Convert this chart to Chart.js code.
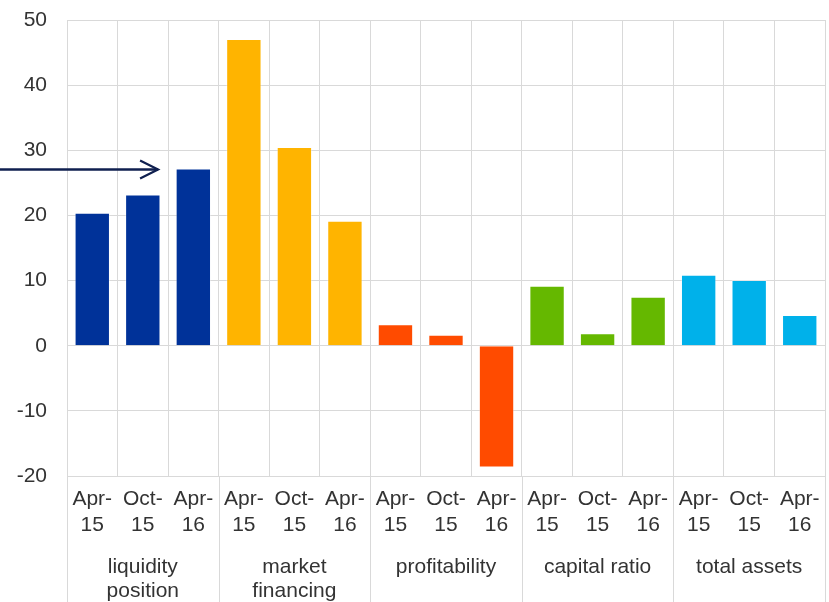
<!DOCTYPE html>
<html>
<head>
<meta charset="utf-8">
<script src="https://cdn.jsdelivr.net/npm/chart.js@4/dist/chart.umd.min.js"></script>
<style>
  html, body { margin: 0; padding: 0; background: #fff; }
  #wrap { width: 829px; height: 602px; }
</style>
</head>
<body>
<div id="wrap"><canvas id="chart" width="829" height="602"></canvas></div>
<script>
// ── Data ──────────────────────────────────────────────────────────────────────
const groups  = ['liquidity\nposition', 'market\nfinancing', 'profitability', 'capital ratio', 'total assets'];
const periods = [['Apr-', '15'], ['Oct-', '15'], ['Apr-', '16']];
const groupColors = ['#003299', '#FFB400', '#FF4B00', '#65B800', '#00B1EA'];

const liquidity     = [20.4, 23.2, 27.2];
const marketFin     = [47.1, 30.5, 19.2];
const profitability = [3.3, 1.7, -18.7];
const capitalRatio  = [9.2, 1.9, 7.5];
const totalAssets   = [10.9, 10.1, 4.7];

const yTicks = [-20, -10, 0, 10, 20, 30, 40, 50];

// flatten into 15 bars
const series = [liquidity, marketFin, profitability, capitalRatio, totalAssets];
const labels = [];
const values = [];
const colors = [];
series.forEach((s, g) => {
  s.forEach((v, i) => {
    labels.push(periods[i]);
    values.push(v);
    colors.push(groupColors[g]);
  });
});

const gridColor = '#d9d9d9';
const textColor = '#333333';
const fontFamily = '"Liberation Sans", Arial, sans-serif';
const fontSize = 21;

// group labels + long separators under the axis, plus the arrow annotation
const groupPlugin = {
  id: 'groupLabels',
  afterDraw(chart) {
    const { ctx, chartArea } = chart;
    const x = chart.scales.x;
    const y = chart.scales.y;
    const step = x.getPixelForValue(1) - x.getPixelForValue(0);
    ctx.save();
    // separators
    ctx.strokeStyle = gridColor;
    ctx.lineWidth = 1;
    for (let g = 0; g <= groups.length; g++) {
      const px = Math.round(x.getPixelForValue(g * 3) - step / 2) + 0.5;
      ctx.beginPath();
      ctx.moveTo(px, chartArea.bottom);
      ctx.lineTo(px, chart.height);
      ctx.stroke();
    }
    // labels
    ctx.fillStyle = textColor;
    ctx.font = fontSize + 'px ' + fontFamily;
    ctx.textAlign = 'center';
    ctx.textBaseline = 'middle';
    groups.forEach((name, g) => {
      const cx = x.getPixelForValue(g * 3 + 1);
      name.split('\n').forEach((line, k) => {
        ctx.fillText(line, cx, chartArea.bottom + 91 + k * 24);
      });
    });
    // arrow pointing at the latest liquidity bar
    const ay = Math.round(y.getPixelForValue(liquidity[2])) + 0.5;
    const tipX = x.getPixelForValue(2) - step / 2 - 10;
    ctx.strokeStyle = '#0f1f4f';
    ctx.lineWidth = 2.3;
    ctx.beginPath();
    ctx.moveTo(0, ay);
    ctx.lineTo(tipX, ay);
    ctx.stroke();
    ctx.lineWidth = 2.2;
    ctx.beginPath();
    ctx.moveTo(tipX - 18, ay - 9);
    ctx.lineTo(tipX, ay);
    ctx.lineTo(tipX - 18, ay + 9);
    ctx.stroke();
    ctx.restore();
  }
};

new Chart(document.getElementById('chart'), {
  type: 'bar',
  data: {
    labels,
    datasets: [{
      data: values,
      backgroundColor: colors,
      borderColor: 'rgba(255,255,255,0.35)',
      borderWidth: 1,
      barPercentage: 0.7,
      categoryPercentage: 1.0
    }]
  },
  options: {
    responsive: false,
    animation: false,
    layout: { padding: { top: 0, right: 4, left: 0, bottom: 0 } },
    plugins: { legend: { display: false }, tooltip: { enabled: false } },
    scales: {
      x: {
        offset: true,
        grid: { color: gridColor, offset: true, drawTicks: false },
        border: { color: gridColor },
        ticks: {
          color: textColor,
          font: { family: fontFamily, size: fontSize, lineHeight: 1.2 },
          padding: 11,
          maxRotation: 0,
          autoSkip: false
        },
        afterFit(scale) {
          scale.height = 126;
          scale.paddingLeft = 0;
          scale.paddingRight = 0;
        }
      },
      y: {
        min: -20,
        max: 50,
        afterBuildTicks(scale) { scale.ticks = yTicks.map(v => ({ value: v })); },
        grid: { color: gridColor, drawTicks: false },
        border: { display: false },
        ticks: {
          color: textColor,
          font: { family: fontFamily, size: fontSize },
          padding: 20
        },
        afterFit(scale) {
          scale.width = 67;
          scale.paddingTop = 20;
          scale.paddingBottom = 0;
        }
      }
    }
  },
  plugins: [groupPlugin]
});
</script>
</body>
</html>
